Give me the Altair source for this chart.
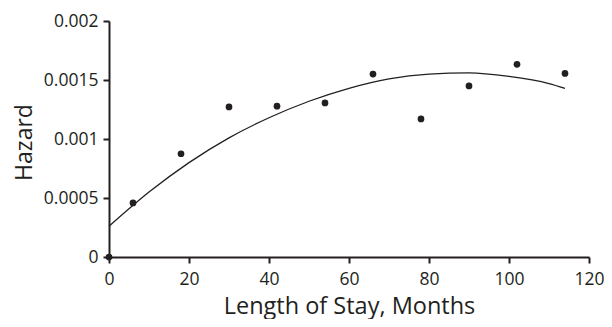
import altair as alt
import pandas as pd

# Observed hazard points
months = [0, 6, 18, 30, 42, 54, 66, 78, 90, 102, 114]
hazard = [0.0, 0.000458, 0.000875, 0.001272, 0.001278, 0.001306,
          0.00155, 0.00117, 0.00145, 0.001633, 0.001556]

# Fitted curve
curve_months = [0, 10, 20, 30, 40, 50, 60, 70, 80, 90, 100, 110, 114]
curve_hazard = [0.00026, 0.00055, 0.00080, 0.00101, 0.00118, 0.00132,
                0.00143, 0.00151, 0.00155, 0.00156, 0.00153, 0.00147, 0.00143]

x_ticks = [0, 20, 40, 60, 80, 100, 120]
y_ticks = [0, 0.0005, 0.001, 0.0015, 0.002]

pts = pd.DataFrame({"m": months, "h": hazard})
crv = pd.DataFrame({"m": curve_months, "h": curve_hazard})

FONT = "Open Sans"
INK = "#231f20"
xscale = alt.Scale(domain=[0, 120], nice=False)
yscale = alt.Scale(domain=[0, 0.002], nice=False)

xaxis = alt.Axis(values=x_ticks, title="Length of Stay, Months", grid=False,
                 domainColor=INK, domainWidth=2, tickColor=INK,
                 tickWidth=2, tickSize=6, labelFont=FONT, labelFontSize=17.5,
                 labelColor=INK, titleFont=FONT, titleFontSize=23.5,
                 titleFontWeight="normal", titleColor=INK,
                 labelPadding=7, titleBaseline="alphabetic", titleY=56,
                 labelFlush=False)
yaxis = alt.Axis(values=y_ticks, format="~f", title="Hazard", grid=False,
                 domainColor=INK, domainWidth=2, tickColor=INK,
                 tickWidth=2, tickSize=6, labelFont=FONT, labelFontSize=17.5,
                 labelColor=INK, titleFont=FONT, titleFontSize=23,
                 titleFontWeight="normal", titleColor=INK,
                 labelPadding=5, titleBaseline="alphabetic", titleX=-78,
                 titleY=121, labelFlush=False)

line = alt.Chart(crv).mark_line(color=INK, strokeWidth=1.3,
                                interpolate="monotone").encode(
    x=alt.X("m:Q", scale=xscale, axis=xaxis),
    y=alt.Y("h:Q", scale=yscale, axis=yaxis),
)

dots = alt.Chart(pts).mark_circle(color=INK, opacity=1, size=45).encode(
    x=alt.X("m:Q", scale=xscale),
    y=alt.Y("h:Q", scale=yscale),
)

chart = alt.layer(line, dots).properties(
    width=480, height=236,
    autosize=alt.AutoSizeParams(type="none"),
    padding={"left": 101, "top": 13, "right": 15, "bottom": 62},
).configure_view(stroke=None)

chart.save("out.html", embed_options={"renderer": "svg", "actions": False})
